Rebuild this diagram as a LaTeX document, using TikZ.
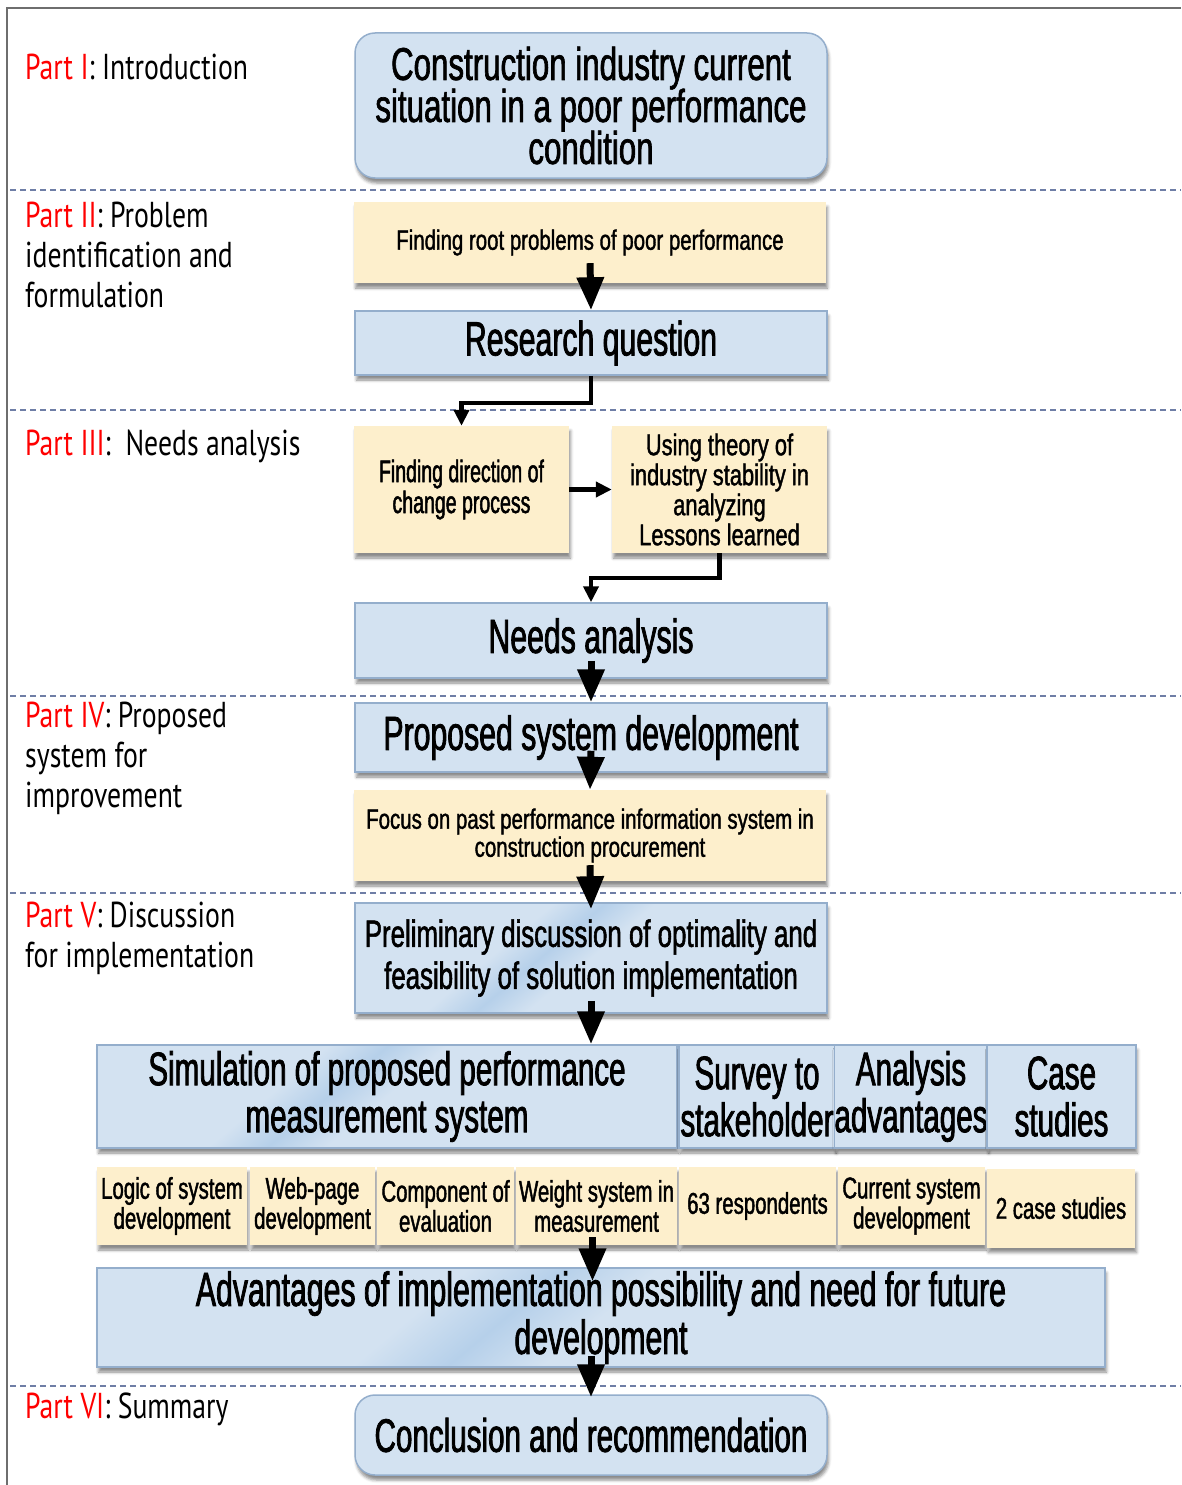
\documentclass[tikz,border=0pt]{standalone}
\usepackage{fontspec}
\setmainfont{PT Sans}
\newfontfamily\boxA[FakeStretch=0.63,FakeBold=1.6]{Liberation Sans}
\newfontfamily\boxB[FakeStretch=0.68,FakeBold=1.4]{Liberation Sans}
\newfontfamily\boxC[FakeStretch=0.73,FakeBold=1.3]{Liberation Sans}
\newfontfamily\partfont[FakeStretch=0.77]{PT Sans}
\usetikzlibrary{arrows.meta,shadows.blur,calc}

\definecolor{boxblue}{HTML}{D3E2F1}
\definecolor{boxedge}{HTML}{94AECC}
\definecolor{boxyellow}{HTML}{FDEFCC}
\definecolor{streakblue}{HTML}{B6D0EA}
\definecolor{sepline}{HTML}{6F7EA6}
\definecolor{framegray}{HTML}{6E6E6E}

\pgfdeclarehorizontalshading{glossband}{100bp}{color(0bp)=(boxblue); color(38bp)=(boxblue); color(44bp)=(streakblue); color(50bp)=(boxblue); color(100bp)=(boxblue)}

\tikzset{
  shadowed/.style={blur shadow={shadow xshift=1.5pt, shadow yshift=-5pt, shadow blur radius=3pt, shadow opacity=45}},
  bluebox/.style={draw=boxedge, line width=1.5pt, fill=boxblue, shadowed, inner sep=0pt, align=center},
  glossbox/.style={bluebox, shading=glossband, shading angle=-50},
  roundbox/.style={bluebox, rounded corners=20pt},
  yellowbox/.style={fill=boxyellow, shadowed, inner sep=0pt, align=center},
  fA/.style={font=\boxA\fontsize{#1}{#1}\selectfont},
  fB/.style={font=\boxB\fontsize{#1}{#1}\selectfont},
  fC/.style={font=\boxC\fontsize{#1}{#1}\selectfont},
  partlabel/.style={anchor=base west, align=left, inner sep=0pt,
    font=\partfont\fontsize{36}{40}\selectfont},
  bigarrow/.style={line width=7pt, -{Triangle[width=26pt,length=33pt]}},
  elbow/.style={line width=4.5pt, line join=miter, -{Triangle[width=15pt,length=16pt]}},
  separator/.style={sepline, line width=1.8pt, dash pattern=on 6pt off 4pt},
}

\begin{document}
\begin{tikzpicture}[x=1pt,y=-1pt]
\useasboundingbox (0,0) rectangle (1181,1485);

% frame and part separators
\draw[framegray, line width=2pt] (7,1485) -- (7,8) -- (1181,8);
\foreach \yy in {190,410,696,893,1386}
  \draw[separator] (10,\yy) -- (1181,\yy);

% part labels (anchored on the baseline of their last line)
\node[partlabel] (p1) at (25,80) {\textcolor{red}{Part I}: Introduction};
\node[partlabel] (p2) at (25,307) {\textcolor{red}{Part II}: Problem\\identification and\\formulation};
\node[partlabel] (p3) at (25,455) {\textcolor{red}{Part III}:\ \ Needs analysis};
\node[partlabel] (p4) at (25,807) {\textcolor{red}{Part IV}: Proposed\\system for\\improvement};
\node[partlabel] (p5) at (25,967) {\textcolor{red}{Part V}: Discussion\\for implementation};
\node[partlabel] (p6) at (25,1418) {\textcolor{red}{Part VI}: Summary};

% Part I
\node[roundbox, fB=46, minimum width=472pt, minimum height=145pt] (n1) at (591,105.5)
  {Construction industry current\\[-4pt]situation in a poor performance\\[-4pt]condition};

% Part II
\node[yellowbox, fC=28, minimum width=472pt, minimum height=81pt] (n2) at (590,242.5)
  {Finding root problems of poor performance};
\node[bluebox, fA=48, minimum width=472pt, minimum height=64pt] (n3) at (591,343)
  {Research question};

% Part III
\node[yellowbox, fA=31, minimum width=215pt, minimum height=127pt] (n4) at (461.5,489.5)
  {Finding direction of\\change process};
\node[yellowbox, fC=30, minimum width=215pt, minimum height=127pt] (n5) at (719.5,489.5)
  {Using theory of\\industry stability in\\analyzing\\Lessons learned};
\node[bluebox, fA=48, minimum width=472pt, minimum height=75pt] (n6) at (591,640.5)
  {Needs analysis};

% Part IV
\node[bluebox, fA=48, minimum width=472pt, minimum height=69pt] (n7) at (591,737.5)
  {Proposed system development};
\node[yellowbox, fC=28, minimum width=472pt, minimum height=91pt] (n8) at (590,835.5)
  {Focus on past performance information system in\\construction procurement};

% Part V
\node[glossbox, fB=38, minimum width=472pt, minimum height=110pt] (n9) at (591,958)
  {Preliminary discussion of optimality and\\[4pt]feasibility of solution implementation};
\node[glossbox, fA=47, minimum width=580pt, minimum height=103pt] (n10) at (387,1096.5)
  {Simulation of proposed performance\\measurement system};
\node[bluebox, fA=47, minimum width=156pt, minimum height=103pt] (n11) at (757,1096.5)
  {Survey to\\stakeholder};
\node[bluebox, fA=47, minimum width=150pt, minimum height=103pt] (n12) at (911,1096.5)
  {Analysis\\advantages};
\node[bluebox, fA=47, minimum width=149pt, minimum height=103pt] (n13) at (1061.5,1096.5)
  {Case\\studies};

\node[yellowbox, fB=30, minimum width=150pt, minimum height=78pt] (l1) at (172,1206)
  {Logic of system\\development};
\node[yellowbox, fB=30, minimum width=125pt, minimum height=78pt] (l2) at (312.5,1206)
  {Web-page\\development};
\node[yellowbox, fB=30, minimum width=137pt, minimum height=78pt] (l3) at (445.5,1206)
  {Component of\\evaluation};
\node[yellowbox, fB=30, minimum width=161pt, minimum height=78pt] (l4) at (596.5,1206)
  {Weight system in\\measurement};
\node[yellowbox, fB=30, minimum width=157pt, minimum height=78pt] (l5) at (757.5,1206)
  {63 respondents};
\node[yellowbox, fB=30, minimum width=147pt, minimum height=78pt] (l6) at (911.5,1206)
  {Current system\\development};
\node[yellowbox, fB=30, minimum width=148pt, minimum height=79pt] (l7) at (1061,1208)
  {2 case studies};

\node[glossbox, fA=48, minimum width=1008pt, minimum height=99pt] (n14) at (601,1317.5)
  {Advantages of implementation possibility and need for future\\development};

% Part VI
\node[roundbox, fA=47, minimum width=472pt, minimum height=80pt] (n15) at (591,1435)
  {Conclusion and recommendation};

% connectors
\draw[bigarrow] ([yshift=20pt]n2.south) -- (n3.north);
\draw[elbow] (n3.south) -- ++(0,27) -| (n4.north);
\draw[elbow] (n4.east) -- (n5.west);
\draw[elbow] (n5.south) -- ++(0,25) -| (n6.north);
\draw[bigarrow] ([yshift=18pt]n6.south) -- (n7.north);
\draw[bigarrow] ([yshift=22pt]n7.south) -- (n8.north);
\draw[bigarrow] ([yshift=16pt]n8.south) -- ([yshift=-7pt]n9.north);
\draw[bigarrow] ([yshift=13pt]n9.south) -- (n9.south |- n10.north);
\draw[bigarrow] ($(l4.south)+(-4,-8)$) -- ($(l4.south |- n14.north)+(-4,14)$);
\draw[bigarrow] ($(n15.north |- n14.south)+(0,-12)$) -- ($(n15.north)+(0,3)$);
\end{tikzpicture}
\end{document}
